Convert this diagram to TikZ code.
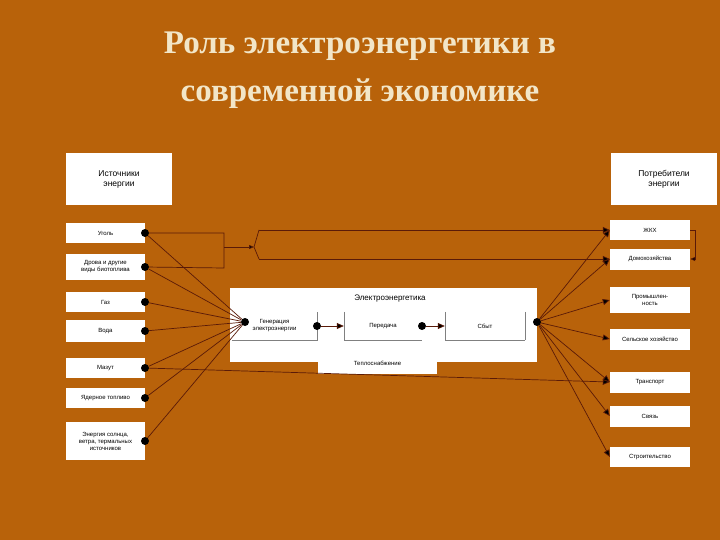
\documentclass[tikz,border=0pt]{standalone}
\usepackage{fontspec}
\setmainfont{Liberation Sans}
\newfontfamily\titlefont{Liberation Serif}
\usetikzlibrary{arrows.meta}
\definecolor{bg}{HTML}{B8620A}
\definecolor{ln}{HTML}{5A1A08}
\definecolor{tt}{HTML}{F2E6C8}
\begin{document}
\begin{tikzpicture}[x=1pt,y=-1pt,
 box/.style={draw=none,fill=white,inner sep=0pt,align=center,font=\fontsize{6}{7}\selectfont},
 hbox/.style={box,font=\fontsize{8.5}{10}\selectfont},
 dot/.style={circle,fill=black,inner sep=0pt,minimum size=8pt},
 con/.style={draw=ln,line width=0.7pt},
 arr/.style={con,-{Triangle[length=7pt,width=6pt,fill=black]}}]
\fill[bg] (0,0) rectangle (720,540);
\node[font=\titlefont\bfseries\fontsize{33}{48}\selectfont,text=tt,align=center] (title) at (360,70) {Роль электроэнергетики в\\современной экономике};
% left
\node[hbox,minimum width=106pt,minimum height=52pt] (src) at (119,179) {Источники\\энергии};
\foreach \n/\y/\h/\t in {a/233/20/Уголь, b/267/26/{Дрова и другие\\виды биотоплива}, c/302/20/Газ, d/331/22/Вода, e/368/20/Мазут, f/398/20/Ядерное топливо, g/441/38/{Энергия солнца,\\ветра, термальных\\источников}}{
 \node[box,minimum width=79pt,minimum height=\h pt] (\n) at (105.5,\y) {\t};
 \node[dot] (d\n) at (145,\y) {};
}
% right
\node[hbox,minimum width=106pt,minimum height=52pt] (cons) at (664,179) {Потребители\\энергии};
\foreach \n/\y/\h/\t in {A/230/20/ЖКХ, B/259/21/Домохозяйства, C/300/26/{Промышлен-\\ность}, D/339/21/Сельское хозяйство, E/382/21/Транспорт, F/416/21/Связь, G/457/20/Строительство}{
 \node[box,minimum width=80pt,minimum height=\h pt] (\n) at (650,\y) {\t};
}
% center
\node[fill=white,minimum width=307pt,minimum height=74pt,inner sep=0pt] (main) at (383.5,325) {};
\node[font=\fontsize{8}{9}\selectfont] (mt) at (390,299) {Электроэнергетика};
\node[box,minimum width=85pt,minimum height=28pt] (gen) at (274.5,326) {Генерация\\электроэнергии};
\node[box,minimum width=78pt,minimum height=28pt] (per) at (383,326) {Передача};
\node[box,minimum width=80pt,minimum height=28pt] (sb) at (485,326) {Сбыт};
\draw[gray,line width=0.4pt] (gen.south west)--(gen.south east)--(gen.north east);
\draw[gray,line width=0.4pt] (per.north west)--(per.south west)--(per.south east);
\draw[gray,line width=0.4pt] (sb.north west)--(sb.south west)--(sb.south east) (sb.north east)--(sb.south east);
\node[box,minimum width=119pt,minimum height=22pt,fill=white] (tep) at (377.5,363) {Теплоснабжение};
\node[dot] (g1) at (317,326) {};
\node[dot] (p1) at (422,326) {};
\draw[arr] (g1)--(per.west);
\draw[arr] (p1)--(sb.west);
\node[dot] (hl) at (245,322) {};
\node[dot] (hr) at (537,322) {};
% left connectors
\foreach \n in {a,b,c,d,e,f,g} \draw[con] (d\n)--(hl);
\coordinate (j1) at (224,233);
\coordinate (j2) at (224,268);
\coordinate (j3) at (224,247);
\coordinate (br) at (254,247);
\coordinate (bu) at (259,230);
\coordinate (bd) at (259,259);
\draw[con] (da)--(j1)--(j2)--(db);
\draw[con,-{Triangle[length=5pt,width=4pt,fill=black]}] (j3)--(br);
\draw[con] (bu)--(br)--(bd);
\draw[arr] (bu)--(A.west);
\draw[arr] (bd)--(B.west);
\draw[arr] (de)--(E.west);
% right connectors
\foreach \n in {A,B,C,D,E,F,G} \draw[arr] (hr)--(\n.west);
\coordinate (k1) at (695,230);
\coordinate (k2) at (695,259);
\draw[con] (A.east)--(k1)--(k2);
\draw[con,-{Triangle[length=5pt,width=4pt,fill=black]}] (k2)--(B.east);
\end{tikzpicture}
\end{document}
